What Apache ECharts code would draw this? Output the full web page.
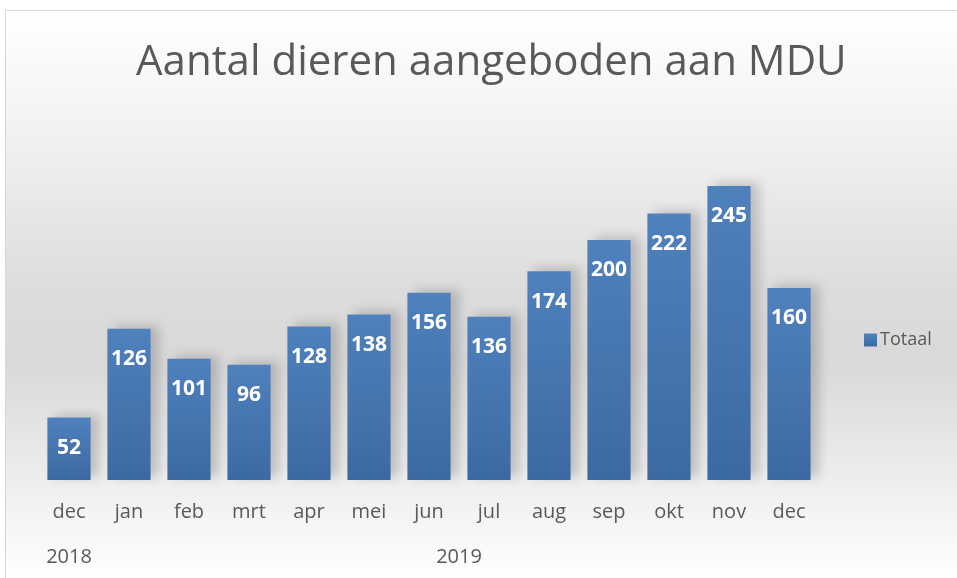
<!DOCTYPE html>
<html>
<head>
<meta charset="utf-8">
<script src="https://cdn.jsdelivr.net/npm/echarts@6/dist/echarts.min.js"></script>
<style>
  html, body { margin: 0; padding: 0; background: #fff; }
  #frame {
    position: absolute; left: 5px; top: 10px; width: 952px; height: 568px;
    border-left: 1px solid #d9d9d9; border-top: 1px solid #d9d9d9;
    background: linear-gradient(to bottom, #ffffff 0%, #f4f4f4 18%, #dcdcdc 50%, #d9d9d9 62%, #eeeeee 83%, #ffffff 100%);
  }
  #chart { position: absolute; left: 0; top: 0; width: 957px; height: 578px; }
</style>
</head>
<body>
<div id="frame"></div>
<div id="chart"></div>
<script>
const months = ['dec', 'jan', 'feb', 'mrt', 'apr', 'mei', 'jun', 'jul', 'aug', 'sep', 'okt', 'nov', 'dec'];
const totals = [52, 126, 101, 96, 128, 138, 156, 136, 174, 200, 222, 245, 160];
const years = ['2018', '2019'];
const yearSpans = [1, 12];

// centre of each year group on a 0..n scale
const yearCenters = [];
let start = 0;
yearSpans.forEach(function (s) {
  yearCenters.push(start + s / 2);
  start += s;
});

const chart = echarts.init(document.getElementById('chart'));
const font = "'Open Sans', sans-serif";

chart.setOption({
  backgroundColor: 'transparent',
  title: {
    text: 'Aantal dieren aangeboden aan MDU',
    left: 131,
    top: 37,
    textStyle: { color: '#595959', fontSize: 42, fontWeight: 'normal', fontFamily: font }
  },
  legend: {
    data: ['Totaal'],
    orient: 'vertical',
    left: 859,
    top: 326,
    itemWidth: 13,
    itemHeight: 13,
    itemGap: 5,
    icon: 'rect',
    textStyle: { color: '#595959', fontSize: 18, fontFamily: font, padding: [0, 0, 0, -2] }
  },
  grid: { left: 39, right: 138, top: 120, bottom: 98 },
  xAxis: [
    {
      type: 'category',
      data: months,
      axisLine: { show: false },
      axisTick: { show: false },
      axisLabel: { color: '#595959', fontSize: 20, fontFamily: font, margin: 22 }
    },
    {
      type: 'value',
      position: 'bottom',
      offset: 45,
      min: 0,
      max: months.length,
      axisLine: { show: false },
      axisTick: { show: false },
      splitLine: { show: false },
      axisLabel: {
        color: '#595959', fontSize: 20, fontFamily: font, margin: 22,
        customValues: yearCenters,
        formatter: function (v) {
          const i = yearCenters.indexOf(v);
          return i >= 0 ? years[i] : '';
        }
      }
    }
  ],
  yAxis: {
    type: 'value',
    min: 0,
    max: 300,
    show: false,
    splitLine: { show: false }
  },
  series: [
    {
      name: 'Totaal',
      type: 'bar',
      data: totals,
      xAxisIndex: 0,
      barCategoryGap: '28%',
      itemStyle: {
        color: new echarts.graphic.LinearGradient(0, 0, 0, 1, [
          { offset: 0, color: '#4f81bd' },
          { offset: 1, color: '#3c69a2' }
        ]),
        shadowColor: 'rgba(0,0,0,0.18)',
        shadowBlur: 10,
        shadowOffsetX: 8,
        shadowOffsetY: -3
      },
      label: {
        show: true,
        position: 'insideTop',
        distance: 20,
        color: '#ffffff',
        fontSize: 21,
        fontWeight: 'bold',
        fontFamily: font
      }
    }
  ]
});
</script>
</body>
</html>
